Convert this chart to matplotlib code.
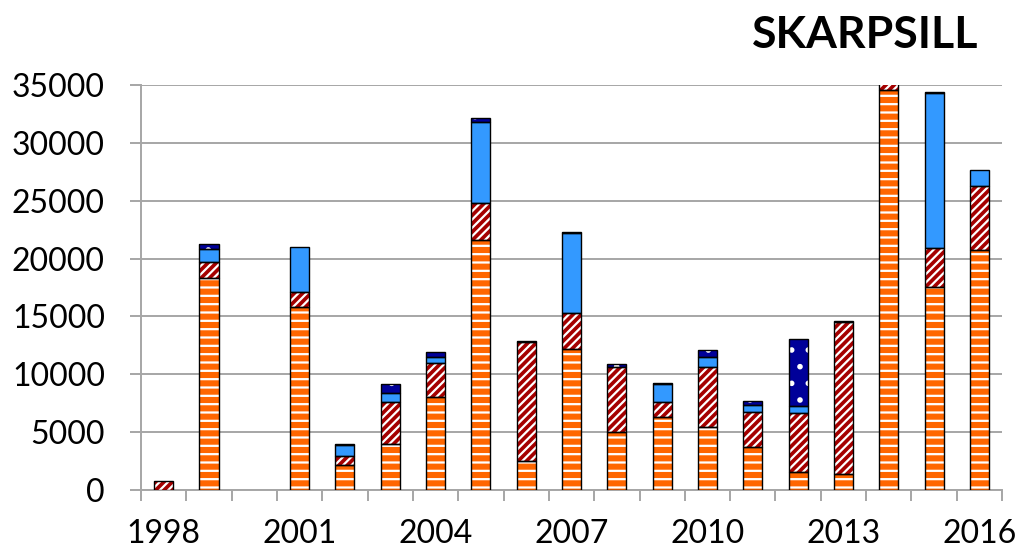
import matplotlib
matplotlib.use("Agg")
import matplotlib.pyplot as plt
import numpy as np

years = list(range(1998, 2017))
orange = [0, 18300, 0, 15850, 2150, 3975, 8070, 21580, 2530, 12160, 4990, 6340, 5420, 3690, 1580, 1350, 34570, 17570, 20740]
red    = [750, 1380, 0, 1260, 790, 3625, 2880, 3200, 10270, 3140, 5640, 1290, 5240, 3080, 5050, 13200, 1000, 3320, 5530]
blue   = [0, 1150, 0, 3920, 960, 810, 520, 7050, 0, 6950, 0, 1520, 810, 580, 630, 0, 0, 13390, 1380]
navy   = [0, 470, 0, 0, 80, 720, 430, 290, 80, 50, 290, 60, 600, 310, 5760, 50, 0, 140, 0]
tick_years = [1998, 2001, 2004, 2007, 2010, 2013, 2016]
yticks = [0, 5000, 10000, 15000, 20000, 25000, 30000, 35000]
title = "SKARPSILL"

plt.rcParams['font.family'] = ['Lato', 'DejaVu Sans']
plt.rcParams['hatch.linewidth'] = 1.6

fig = plt.figure(figsize=(10.27, 5.54), dpi=100)
ax = fig.add_axes([0.1373, 0.1155, 0.9757 - 0.1373, 0.8466 - 0.1155])

x = np.arange(len(years))
w = 0.42
series = [
    (orange, '#ff6600', '--'),
    (red, '#a50000', '////'),
    (blue, '#3399ff', None),
    (navy, '#000099', '.'),
]
bottom = np.zeros(len(years))
for vals, col, hatch in series:
    v = np.array(vals, dtype=float)
    m = v > 0
    ax.bar(x[m], v[m], w, bottom=bottom[m], color=col, hatch=hatch, edgecolor='white',
           linewidth=0, zorder=3)
    ax.bar(x[m], v[m], w, bottom=bottom[m], fill=False, edgecolor='black',
           linewidth=1.0, zorder=4)
    bottom += v

ax.set_xlim(-0.5, len(years) - 0.5)
ax.set_ylim(0, 35000)
ax.set_yticks(yticks)
ax.set_yticklabels([str(t) for t in yticks])
ax.yaxis.grid(True, color='#a6a6a6', linewidth=1.4, zorder=0)
ax.set_axisbelow(True)

ax.set_xticks([years.index(y) for y in tick_years])
ax.set_xticklabels([str(y) for y in tick_years])
ax.set_xticks(np.arange(-0.5, len(years) + 0.5, 1), minor=True)
ax.tick_params(axis='x', which='major', length=0, pad=21, labelsize=23)
ax.tick_params(axis='x', which='minor', length=8, color='#a6a6a6', width=1.4)
ax.tick_params(axis='y', length=8, color='#a6a6a6', width=1.4, pad=18, labelsize=23)

for s in ['top', 'right']:
    ax.spines[s].set_visible(False)
for s in ['left', 'bottom']:
    ax.spines[s].set_color('#a6a6a6')
    ax.spines[s].set_linewidth(1.4)

fig.text(0.842, 0.936, title, fontsize=32, fontweight='bold', ha='center', va='center')

fig.savefig('out.png', dpi=100)
